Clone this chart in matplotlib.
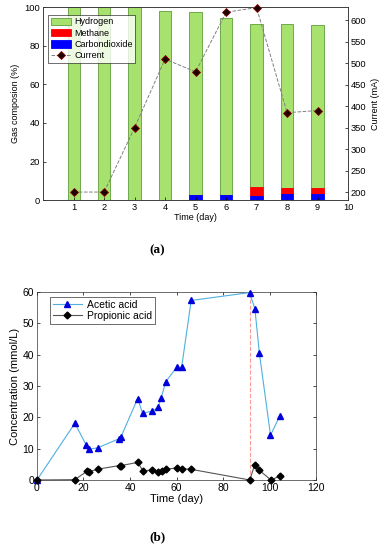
import numpy as np
import matplotlib
matplotlib.use('Agg')
import matplotlib.pyplot as plt

plt.rcParams['font.family'] = ['Liberation Sans', 'DejaVu Sans']
plt.rcParams['xtick.direction'] = 'in'
plt.rcParams['ytick.direction'] = 'in'

# (a) gas composition and current
days = [1, 2, 3, 4, 5, 6, 7, 8, 9]
co2 = [0, 0, 0, 0, 2.6, 2.6, 2.1, 3.1, 3.1]
methane = [0, 0, 0, 0, 0, 0, 4.5, 3.0, 3.3]
hydrogen = [100, 100, 100, 98.1, 94.8, 92.0, 84.7, 85.1, 84.6]
current = [200, 200, 350, 510, 480, 619, 630, 385, 390]

# (b) volatile fatty acids
t_ac = [0, 16.3, 21.2, 22.5, 26.2, 35.1, 36.1, 43.3, 45.4, 49.6, 52.1, 53.4,
        55.4, 60.2, 62.2, 66.3, 91.4, 93.7, 95.6, 100.4, 104.3]
acetic = [0, 18.1, 11.1, 9.8, 10.3, 13.1, 13.7, 26.0, 21.3, 22.0, 23.2, 26.2,
          31.4, 36.1, 36.0, 57.3, 59.8, 54.6, 40.6, 14.3, 20.3]
t_pr = [0, 16.3, 21.5, 22.5, 26.4, 35.5, 36.1, 43.3, 45.6, 49.4, 52.1, 53.6,
        55.6, 60.2, 62.2, 66.3, 91.5, 93.6, 95.6, 100.6, 104.6]
propionic = [0, 0.1, 2.8, 2.7, 3.5, 4.6, 4.6, 5.6, 2.9, 3.2, 2.4, 2.8,
             3.4, 3.9, 3.6, 3.4, 0, 4.8, 3.1, 0, 1.3]

fig = plt.figure(figsize=(3.85, 5.5), dpi=100)

# ---- top panel
ax1 = fig.add_axes([0.112, 0.636, 0.792, 0.351])
co2 = np.array(co2)
methane = np.array(methane)
hydrogen = np.array(hydrogen)
w = 0.4
b1 = ax1.bar(days, hydrogen, w, bottom=co2 + methane, color='#a8e26e',
             edgecolor='#5f9e3a', linewidth=0.6, label='Hydrogen')
b2 = ax1.bar(days, methane, w, bottom=co2, color='#ff0000',
             edgecolor='#ff0000', linewidth=0.6, label='Methane')
b3 = ax1.bar(days, co2, w, color='#0000ff', edgecolor='#0000ff',
             linewidth=0.6, label='Carbondioxide')
ax1.set_xlim(0, 10)
ax1.set_ylim(0, 100)
ax1.set_xticks(range(1, 11))
ax1.set_yticks(range(0, 101, 20))
ax1.tick_params(labelsize=6.7, length=2, width=0.5, pad=2)
ax1.set_xlabel('Time (day)', fontsize=6.5, labelpad=1)
ax1.set_ylabel('Gas composion (%)', fontsize=6.5, labelpad=3)
for s in ax1.spines.values():
    s.set_linewidth(0.5)
    s.set_color('#333333')

ax2 = ax1.twinx()
l1, = ax2.plot(days, current, '--', color='#808080', linewidth=0.7,
               marker='D', markersize=4, markerfacecolor='#1a0000',
               markeredgecolor='#8b0000', markeredgewidth=0.6,
               label='Current', clip_on=False, zorder=5)
ax2.set_ylim(181, 631)
ax2.set_yticks(range(200, 601, 50))
ax2.tick_params(labelsize=6.7, length=2, width=0.5, pad=2)
ax2.set_ylabel('Current (mA)', fontsize=6.5, labelpad=3)
for s in ax2.spines.values():
    s.set_linewidth(0.5)
    s.set_color('#333333')

leg1 = ax2.legend([b1, b2, b3, l1], ['Hydrogen', 'Methane', 'Carbondioxide', 'Current'],
                  loc='upper left', bbox_to_anchor=(0.01, 0.97), fontsize=6.5,
                  frameon=True, fancybox=False, edgecolor='black',
                  handlelength=2.2, handleheight=0.9, borderpad=0.3,
                  labelspacing=0.25, handletextpad=0.4, borderaxespad=0.2)
leg1.get_frame().set_linewidth(0.5)

fig.text(0.408, 1 - 250 / 550, '(a)', fontsize=9.5, fontweight='bold',
         family='Liberation Serif', ha='center', va='center')

# ---- bottom panel
ax3 = fig.add_axes([0.096, 0.1273, 0.725, 0.3418])
ax3.axvline(t_ac[16], ymin=0, ymax=acetic[16] / 60, color='#ff9a9a',
            linestyle='--', linewidth=0.8, zorder=1)
ax3.plot(t_ac, acetic, '-', color='#4fb0e0', linewidth=0.8, marker='^',
         markersize=4.5, markerfacecolor='#0000dd', markeredgecolor='#0000dd',
         label='Acetic acid', clip_on=False, zorder=3)
ax3.plot(t_pr, propionic, '-', color='#555555', linewidth=0.8, marker='D',
         markersize=3.5, markerfacecolor='black', markeredgecolor='black',
         label='Propionic acid', clip_on=False, zorder=3)
ax3.set_xlim(0, 120)
ax3.set_ylim(0, 60)
ax3.set_xticks(range(0, 121, 20))
ax3.set_yticks(range(0, 61, 10))
ax3.tick_params(labelsize=7.5, length=2, width=0.5, pad=2, top=True, right=True)
ax3.set_xlabel('Time (day)', fontsize=8, labelpad=1)
ax3.set_ylabel('Concentration (mmol/L)', fontsize=8, labelpad=2)
for s in ax3.spines.values():
    s.set_linewidth(0.5)
    s.set_color('#333333')
leg2 = ax3.legend(loc='upper left', bbox_to_anchor=(0.04, 0.985), fontsize=7.5,
                  frameon=True, fancybox=False, edgecolor='black',
                  handlelength=2.8, borderpad=0.25, labelspacing=0.15,
                  handletextpad=0.5, borderaxespad=0.2)
leg2.get_frame().set_linewidth(0.5)

fig.text(0.408, 1 - 537 / 550, '(b)', fontsize=9.5, fontweight='bold',
         family='Liberation Serif', ha='center', va='center')

fig.savefig('out.png', dpi=100)
